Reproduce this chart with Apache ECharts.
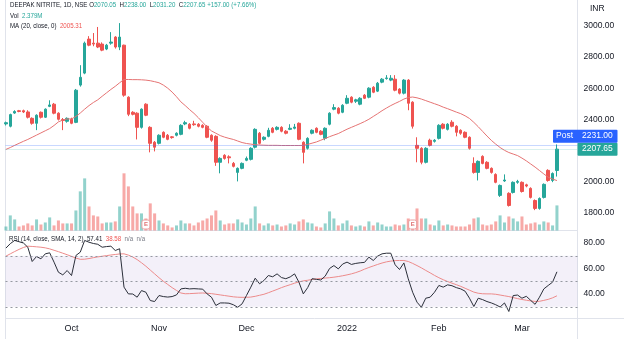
<!DOCTYPE html>
<html><head><meta charset="utf-8">
<script src="https://cdn.jsdelivr.net/npm/echarts@6/dist/echarts.min.js"></script>
<style>html,body{margin:0;padding:0;background:#fff}#c{width:624px;height:339px}</style>
</head><body><div id="c"></div>
<script>
// ---- data ----
const opens  = [2370,2355,2440,2455,2455,2447,2406,2374,2445,2413,2483,2497,2439,2398,2387,2400,2380,2620,2697,2916,2890,2890,2884,2852,2890,2929,2865,2877,2542,2445,2439,2348,2497,2348,2252,2245,2316,2297,2287,2297,2303,2370,2368,2370,2368,2361,2355,2297,2290,2123,2168,2158,2116,2058,2084,2136,2142,2220,2310,2271,2290,2342,2335,2348,2323,2335,2342,2374,2252,2213,2310,2342,2323,2277,2368,2465,2471,2445,2503,2542,2516,2497,2555,2542,2606,2581,2639,2662,2652,2658,2594,2568,2652,2510,2232,2213,2123,2265,2258,2277,2368,2335,2381,2355,2329,2316,2284,2116,2058,2161,2123,2084,2045,1910,2003,1923,1929,1994,1994,1978,1955,1877,1826,1897,2071,2006,2070.05];
const closes = [2378,2430,2450,2450,2447,2413,2374,2426,2413,2465,2492,2439,2400,2392,2406,2374,2587,2670,2890,2877,2884,2865,2845,2877,2897,2865,2929,2555,2432,2432,2348,2465,2426,2245,2220,2297,2284,2271,2282,2310,2361,2378,2342,2365,2355,2348,2284,2265,2123,2148,2148,2152,2097,2084,2116,2148,2213,2335,2245,2284,2329,2316,2348,2323,2310,2342,2350,2271,2187,2277,2329,2316,2303,2342,2439,2475,2439,2490,2535,2510,2525,2535,2535,2600,2574,2632,2658,2666,2664,2587,2568,2652,2503,2355,2213,2123,2213,2232,2265,2361,2342,2368,2355,2316,2310,2284,2213,2058,2129,2116,2084,2058,1994,1974,2009,1845,1994,2000,1935,1970,1897,1826,1890,1981,2006,2050.65,2207.65];
const highs  = [2385,2436,2458,2460,2462,2458,2412,2432,2450,2470,2522,2505,2445,2408,2412,2410,2595,2748,2900,2935,2955,2994,2895,2885,2961,2935,3019,2880,2548,2452,2445,2470,2503,2355,2260,2303,2322,2305,2292,2316,2368,2390,2375,2390,2375,2368,2362,2303,2297,2155,2175,2168,2125,2090,2122,2160,2220,2342,2318,2290,2345,2350,2355,2355,2330,2368,2370,2380,2258,2284,2335,2348,2330,2348,2445,2497,2478,2497,2555,2548,2532,2542,2562,2606,2613,2640,2665,2684,2684,2684,2600,2658,2658,2516,2284,2220,2220,2275,2272,2368,2375,2375,2394,2362,2335,2322,2290,2155,2135,2168,2130,2090,2052,1980,2045,1930,2000,2010,2000,1985,1962,1884,1897,1987,2078,2058,2238];
const lows   = [2360,2348,2435,2445,2440,2405,2365,2330,2405,2408,2478,2432,2392,2330,2378,2368,2375,2610,2690,2870,2870,2858,2838,2845,2880,2855,2845,2545,2420,2425,2270,2340,2420,2187,2193,2238,2278,2265,2275,2290,2297,2362,2335,2358,2348,2342,2278,2255,2100,2052,2140,2116,2090,2000,2078,2130,2135,2212,2238,2262,2284,2310,2328,2316,2303,2330,2335,2265,2116,2205,2303,2310,2297,2265,2361,2458,2432,2439,2497,2503,2505,2490,2530,2535,2568,2575,2632,2655,2645,2580,2560,2560,2458,2340,2123,2110,2116,2225,2250,2270,2335,2328,2348,2290,2300,2278,2205,2050,2006,2110,2078,2050,1988,1900,1997,1838,1922,1985,1928,1962,1890,1815,1818,1890,1998,1995,2031.2];
// volume in millions of shares
const volumes = [0.38,1.43,1.05,0.38,0.48,0.67,0.48,1.05,0.57,0.76,1.24,0.48,0.95,0.67,0.67,0.67,1.90,3.71,4.94,2.28,1.43,1.33,0.67,0.76,0.76,0.86,2.28,5.42,4.18,2.28,1.62,1.62,1.14,2.57,1.62,0.95,0.67,0.48,0.29,0.48,0.95,0.67,0.67,0.48,0.76,0.95,1.14,1.43,1.90,0.95,0.57,0.67,0.67,1.05,0.76,0.57,1.14,2.28,0.67,0.48,0.67,0.48,0.57,0.38,0.48,0.67,0.57,0.86,1.05,0.76,0.67,0.38,0.29,0.67,1.81,1.14,0.48,0.67,0.95,0.48,0.38,0.48,0.38,0.86,0.48,0.76,0.57,0.38,0.38,0.57,0.48,0.57,1.14,0.86,2.09,1.14,1.14,0.57,0.48,0.95,0.48,0.57,0.48,0.38,0.38,0.38,0.57,1.14,1.24,0.57,0.48,0.57,0.86,1.43,0.76,1.33,1.14,0.86,1.33,0.57,0.67,0.76,0.57,0.86,0.76,0.48,2.379];
const maValues = [2206,2218,2232,2245,2258,2270,2284,2298,2312,2326,2340,2360,2383,2395,2402,2402,2418,2440,2465,2488,2508,2525,2548,2570,2592,2612,2635,2656,2656,2655,2655,2654,2652,2648,2642,2635,2620,2600,2575,2545,2512,2488,2462,2438,2410,2380,2350,2325,2310,2295,2285,2277,2270,2260,2250,2244,2240,2236,2234,2233,2232,2232,2232,2231,2231,2231,2231,2231,2232,2238,2246,2254,2265,2276,2288,2298,2308,2322,2336,2348,2360,2372,2385,2400,2418,2436,2455,2472,2488,2502,2515,2530,2540,2543,2538,2530,2520,2510,2500,2490,2478,2468,2457,2446,2436,2422,2405,2380,2352,2322,2292,2264,2240,2218,2200,2186,2176,2166,2150,2132,2112,2092,2070,2048,2027,2015,2005.31];
const rsiValues = [76,79.5,82,81,80,76.7,65.5,69.4,67.6,71.5,72.3,65,57.1,55,58.4,54.5,70.2,72.8,82,80.6,79.6,79,76.7,77.2,77.5,74.1,75.5,45.4,40.1,40,37.5,42.7,41.4,34.9,34.1,38.8,38,37.6,38,39.3,44,44.5,44,44.2,44,43.8,40.1,37.5,31,33,33,32.8,31.6,29.6,32.3,38.8,45.4,52.4,48,50.6,54.5,53.5,55.8,52.9,52,53.4,55.8,49.3,40.1,45,52,51.5,51,54,60,62.3,59.7,63.5,65,63.2,64,64.5,64.8,68.9,66.3,69.7,71.5,72,72,62.9,59.2,64.4,51.9,41.4,33.6,29.6,36.7,37.5,41.4,46.7,45.4,47.2,46.5,45,44,42.2,36.7,30.2,36.7,35.6,34.1,33,31.6,29.8,33,26.3,38.8,39.2,36.7,38.2,35,31.9,37.5,44,46.7,49.3,57.41];
const rsiSmaValues = [69.7,71.5,73.3,75,76.5,77.5,77.3,77,76.7,76.2,75.4,74.3,73.2,72,70.8,69.5,68.2,67.2,67.3,67.8,68.5,69.1,69.6,70.1,70.6,71,71.4,71.5,70.5,69,67,64.5,61.8,58.8,55.8,52.8,50,47.5,45,42.8,40.8,40.2,40.3,40.5,40.7,40.8,40.6,40.3,39.8,39.3,38.8,38.3,37.8,37.5,37.4,37.4,37.6,38.2,39,39.8,41,42.3,43.6,45,46.2,47.3,48.5,49.5,50.3,50.8,51.4,51.9,52.2,52.5,52.8,53.2,53.7,54.3,55,55.8,56.8,58,59.5,60.8,62,63.2,64.3,65.2,65.8,66.2,66.3,66.3,65.5,64,62.3,60.5,58.5,56.6,54.6,52.8,51.2,49.8,48.5,47.3,46,44.5,43,41.5,40.6,40.2,40.1,40.1,39.8,39.2,38.6,38,37.2,36.4,35.7,35.1,34.6,34.2,34.3,35,35.8,37,38.58];
const monthTickIdx    = [15, 35, 55, 78, 99, 118];
const monthTickLabels = ['Oct', 'Nov', 'Dec', '2022', 'Feb', 'Mar'];
const priceTicks = [1800, 2000, 2400, 2600, 2800, 3000];
const rsiTicks   = [40, 60, 80];
const rsiLevels  = [70, 50, 30];
const postPrice  = 2231.00;
const earningsIdx = [32, 93];
const symbolTitle = 'DEEPAK NITRITE, 1D, NSE';

// ---- chart ----
const GREEN = '#26a69a', RED = '#ef5350', TXT = '#131722', LINE = '#e0e3eb';
const FONT = '"Liberation Sans", Arial, sans-serif';
const last = closes.length - 1;
const candleData = closes.map((c, i) => [i, opens[i], c, lows[i], highs[i]]);
const volData = volumes.map((v, i) => ({
  value: [i, v],
  itemStyle: { color: closes[i] >= opens[i] ? 'rgba(38,166,154,0.5)' : 'rgba(239,83,80,0.5)' }
}));
const maData = maValues.map((v, i) => [i, v]);
const rsiData = rsiValues.map((v, i) => [i, v]);
const rsiSmaData = rsiSmaValues.map((v, i) => [i, v]);

const chart = echarts.init(document.getElementById('c'), null, { renderer: 'canvas' });
const xBase = { type: 'value', min: -0.1, max: 130.7, axisLine: { show: false }, axisTick: { show: false }, splitLine: { show: false } };
const lab = { color: TXT, fontSize: 8.5, fontFamily: FONT };

chart.setOption({
  animation: false,
  textStyle: { fontFamily: FONT },
  grid: [
    { left: 5.5, right: 46.5, top: 0, height: 230.5 },
    { left: 5.5, right: 46.5, top: 230.5, height: 88 }
  ],
  xAxis: [
    Object.assign({ gridIndex: 0, axisLabel: { show: false } }, xBase),
    Object.assign({ gridIndex: 1, axisLabel: Object.assign({ show: true, customValues: monthTickIdx, margin: 6,
      formatter: v => monthTickLabels[monthTickIdx.indexOf(v)] || '' }, lab, { fontSize: 9 }) }, xBase)
  ],
  yAxis: [
    { gridIndex: 0, type: 'value', position: 'right', min: 1683.9, max: 3167.7, scale: true,
      axisLine: { show: false }, axisTick: { show: false }, splitLine: { show: false },
      axisLabel: Object.assign({ customValues: priceTicks, formatter: v => v.toFixed(2), margin: 6 }, lab) },
    { gridIndex: 0, type: 'value', min: 0, max: 21.85, show: false },
    { gridIndex: 1, type: 'value', position: 'right', min: 20.8, max: 89.8,
      axisLine: { show: false }, axisTick: { show: false }, splitLine: { show: false },
      axisLabel: Object.assign({ customValues: rsiTicks, formatter: v => v.toFixed(2), margin: 6 }, lab) }
  ],
  series: [
    { type: 'bar', xAxisIndex: 0, yAxisIndex: 1, data: volData, barWidth: 3, silent: true, z: 1 },
    { type: 'candlestick', xAxisIndex: 0, yAxisIndex: 0, data: candleData, encode: { x: 0, y: [1, 2, 3, 4] },
      barWidth: 3, z: 3,
      itemStyle: { color: GREEN, color0: RED, borderColor: GREEN, borderColor0: RED, borderWidth: 1 },
      markLine: { silent: true, symbol: 'none', label: { show: false },
        data: [
          { yAxis: postPrice, lineStyle: { color: 'rgba(41,98,255,0.25)', type: 'solid', width: 1 } },
          { yAxis: closes[last], lineStyle: { color: 'rgba(38,166,154,0.35)', type: 'dotted', width: 1 } }
        ] } },
    { type: 'line', xAxisIndex: 0, yAxisIndex: 0, data: maData, showSymbol: false, silent: true, z: 4,
      lineStyle: { color: '#e57373', width: 1 } },
    { type: 'line', xAxisIndex: 1, yAxisIndex: 2, data: rsiData, showSymbol: false, silent: true, z: 4,
      lineStyle: { color: '#2a2e39', width: 1 },
      markArea: { silent: true, itemStyle: { color: 'rgba(126,87,194,0.09)' },
        data: [[{ yAxis: rsiLevels[2] }, { yAxis: rsiLevels[0] }]] },
      markLine: { silent: true, symbol: 'none', label: { show: false },
        lineStyle: { color: '#9598a1', type: [2, 3], width: 1 },
        data: rsiLevels.map(v => ({ yAxis: v })) } },
    { type: 'line', xAxisIndex: 1, yAxisIndex: 2, data: rsiSmaData, showSymbol: false, silent: true, z: 3,
      lineStyle: { color: '#ec8a8a', width: 1 } }
  ]
});

// ---- annotations positioned through the chart's scales ----
const chg = closes[last] - closes[last - 1];
const pct = chg / closes[last - 1] * 100;
const yClose = chart.convertToPixel({ yAxisIndex: 0 }, closes[last]);
const f2 = v => v.toFixed(2);
const small = 7.5, SX = 0.82;
const rs = (fill) => ({ fill: fill, fontSize: small, fontFamily: FONT });
const legendText = (x, y, text, rich) => ({ type: 'text', x: x, y: y, scaleX: SX, z: 10, silent: true,
  style: { text: text, font: small + 'px ' + FONT, rich: rich } });
const graphics = [
  { type: 'line', shape: { x1: 5.5, y1: 0, x2: 5.5, y2: 339 }, style: { stroke: LINE, lineWidth: 1 }, z: 0, silent: true },
  { type: 'line', shape: { x1: 577.5, y1: 0, x2: 577.5, y2: 339 }, style: { stroke: LINE, lineWidth: 1 }, z: 0, silent: true },
  { type: 'line', shape: { x1: 5.5, y1: 230.5, x2: 577.5, y2: 230.5 }, style: { stroke: LINE, lineWidth: 1 }, z: 0, silent: true },
  { type: 'line', shape: { x1: 5.5, y1: 318.5, x2: 624, y2: 318.5 }, style: { stroke: LINE, lineWidth: 1 }, z: 0, silent: true },
  legendText(10, 1, '{d|' + symbolTitle + '} {d|O}{g|' + f2(opens[last]) + '}  {d|H}{g|' + f2(highs[last]) + '}  {d|L}{g|' + f2(lows[last]) +
            '}  {d|C}{g|' + f2(closes[last]) + '} {g|' + (chg >= 0 ? '+' : '') + f2(chg) + ' (' + (pct >= 0 ? '+' : '') + f2(pct) + '%)}',
            { d: rs(TXT), g: rs(GREEN) }),
  legendText(10, 12, '{d|Vol}  {g|' + volumes[last].toFixed(3) + 'M}', { d: rs(TXT), g: rs(GREEN) }),
  legendText(10, 22, '{d|MA (20, close, 0)}  {r|' + f2(maValues[last]) + '}', { d: rs(TXT), r: rs(RED) }),
  legendText(9, 235, '{d|RSI (14, close, SMA, 14, 2)}  {d|' + f2(rsiValues[last]) + '}  {r|' + f2(rsiSmaValues[last]) + '}  {n|n/a}  {n|n/a}',
            { d: rs(TXT), r: rs(RED), n: rs('#787b86') }),
  { type: 'text', left: 590, top: 4, z: 10, silent: true, style: { text: 'INR', fill: TXT, font: '8.5px ' + FONT } },
  // last price tag
  { type: 'rect', shape: { x: 577.5, y: yClose - 6.5, width: 40, height: 13, r: 1 }, style: { fill: GREEN }, z: 20, silent: true },
  { type: 'text', x: 582, y: yClose, z: 21, silent: true, style: { text: f2(closes[last]), fill: '#fff', font: '8.5px ' + FONT, textVerticalAlign: 'middle' } },
  // post-market tag stacked above the last price tag
  { type: 'rect', shape: { x: 553, y: yClose - 19.5, width: 64.5, height: 13, r: 1 }, style: { fill: '#2962ff' }, z: 20, silent: true },
  { type: 'text', x: 556, y: yClose - 13, z: 21, silent: true, style: { text: 'Post', fill: '#fff', font: '8.5px ' + FONT, textVerticalAlign: 'middle' } },
  { type: 'text', x: 582, y: yClose - 13, z: 21, silent: true, style: { text: f2(postPrice), fill: '#fff', font: '8.5px ' + FONT, textVerticalAlign: 'middle' } }
];
earningsIdx.forEach(i => {
  const x = chart.convertToPixel({ xAxisIndex: 0 }, i);
  graphics.push({ type: 'rect', shape: { x: x - 4, y: 220, width: 8, height: 9, r: 2 }, style: { fill: '#fff', stroke: '#e8a0a0', lineWidth: 1 }, z: 20, silent: true });
  graphics.push({ type: 'text', x: x, y: 224.8, z: 21, silent: true, style: { text: 'E', fill: '#e07070', font: 'bold 6px ' + FONT, textAlign: 'center', textVerticalAlign: 'middle' } });
});
chart.setOption({ graphic: graphics });
</script>
</body></html>
